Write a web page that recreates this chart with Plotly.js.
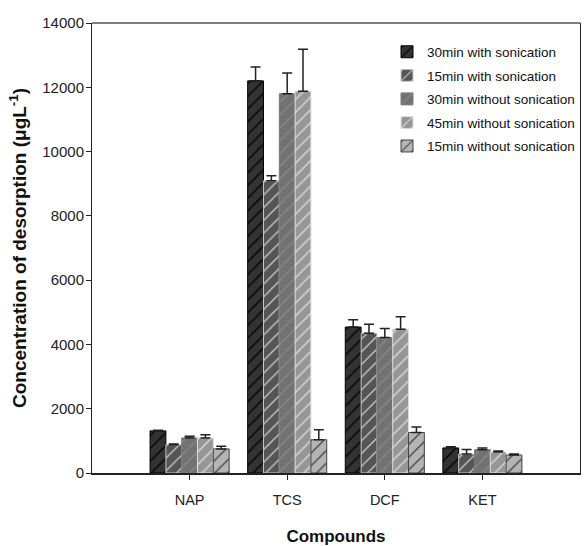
<!DOCTYPE html>
<html>
<head>
<meta charset="utf-8">
<script src="https://cdn.plot.ly/plotly-3.0.1.min.js"></script>
<style>html,body{margin:0;padding:0;background:#fff;}#chart{width:584px;height:546px;}</style>
</head>
<body>
<div id="chart"></div>
<script>
var categories = ["NAP", "TCS", "DCF", "KET"];
var seriesNames = ["30min with sonication", "15min with sonication", "30min without sonication", "45min without sonication", "15min without sonication"];
var s30With = [1310, 12200, 4540, 780];
var s15With = [880, 9090, 4350, 590];
var s30Without = [1090, 11800, 4215, 725];
var s45Without = [1090, 11880, 4475, 655];
var s15Without = [750, 1035, 1260, 560];
var e30With = [20, 430, 225, 40];
var e15With = [20, 155, 280, 140];
var e30Without = [50, 645, 280, 50];
var e45Without = [100, 1300, 390, 30];
var e15Without = [80, 310, 170, 30];

var values = [s30With, s15With, s30Without, s45Without, s15Without];
var errors = [e30With, e15With, e30Without, e45Without, e15Without];
var bg = ["#333333", "#555555", "#727272", "#969696", "#b4b4b4"];
var fg = ["#000000", "#c8c8c8", "#888888", "#dddddd", "#444444"];
var lc = ["#000000", "#c8c8c8", "#7a7a7a", "#dddddd", "#444444"];

var FONT = "Liberation Sans, Arial, sans-serif";

var traces = values.map(function(v, i) {
  return {
    type: "bar",
    name: seriesNames[i],
    legendgroup: "g" + i,
    x: categories,
    y: v,
    marker: {
      color: bg[i],
      line: {color: lc[i], width: 1},
      pattern: {shape: "/", fgcolor: fg[i], bgcolor: bg[i], size: 9, solidity: 0.15}
    },
    error_y: {type: "data", symmetric: false, array: errors[i], arrayminus: errors[i].map(function(){return 0;}), color: "#222", thickness: 1.5, width: 5}
  };
});

var layout = {
  width: 584, height: 546,
  margin: {l: 92, r: 4, t: 23, b: 73},
  paper_bgcolor: "#fff", plot_bgcolor: "#fff",
  barmode: "group", bargap: 0.19, bargroupgap: 0,
  font: {family: FONT, size: 12, color: "#222"},
  xaxis: {
    type: "category", range: [-1, 4],
    showline: true, linecolor: "#222", linewidth: 2, mirror: false,
    ticks: "outside", ticklen: 5, tickcolor: "#222", tickwidth: 1,
    ticklabelstandoff: 8, tickfont: {size: 14.5},
    showgrid: false, zeroline: false,
    title: {text: "<b>Compounds</b>", font: {size: 17, color: "#111"}, standoff: 25}
  },
  yaxis: {
    range: [0, 14000], dtick: 2000, tickformat: "d",
    showline: true, linecolor: "#222", linewidth: 1, mirror: true,
    ticks: "outside", ticklen: 5, tickcolor: "#222", tickwidth: 1,
    showgrid: false, zeroline: false,
    ticklabelstandoff: -1, tickfont: {size: 15},
    title: {text: "<b>Concentration of desorption (μgL<sup>-1</sup>)</b>", font: {size: 19, color: "#111"}, standoff: 10}
  },
  shapes: [{type: "line", xref: "paper", yref: "paper", x0: 0, x1: 1, y0: 1, y1: 1, line: {color: "#555", width: 1.5}}],
  legend: {
    x: 1, xanchor: "right", y: 0.97, yanchor: "top",
    bgcolor: "rgba(0,0,0,0)", font: {size: 13.5, color: "#111"},
    tracegroupgap: 3, itemwidth: 30
  },
  showlegend: true
};

Plotly.newPlot("chart", traces, layout, {staticPlot: true, displayModeBar: false});
</script>
</body>
</html>
